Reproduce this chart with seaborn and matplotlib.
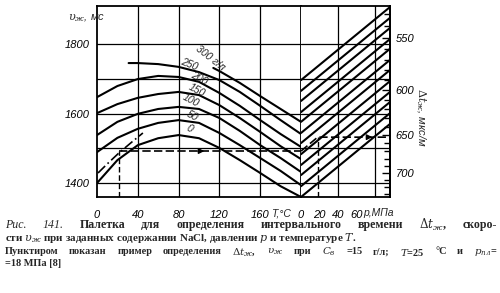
import numpy as np
import pandas as pd
import matplotlib
matplotlib.use("Agg")
import matplotlib.pyplot as plt
from matplotlib.ticker import FixedLocator
import seaborn as sns

sns.set_theme(style="white")
plt.rcParams["font.family"] = ["Liberation Sans", "DejaVu Sans"]
plt.rcParams["mathtext.fontset"] = "dejavuserif"

# ---------------- data ----------------
T_pts = [0, 20, 40, 60, 80, 100, 120, 140, 160, 180, 200]
v_0 = [1400, 1466, 1509, 1529, 1538, 1529, 1501, 1466, 1429, 1391, 1360]
v_50 = [1489, 1530, 1556, 1573, 1581, 1573, 1544, 1509, 1472, 1435, 1394]
v_100 = [1538, 1576, 1599, 1613, 1619, 1613, 1587, 1550, 1509, 1472, 1432]
v_150 = [1601, 1627, 1645, 1656, 1662, 1653, 1624, 1587, 1547, 1506, 1469]
v_200 = [1647, 1679, 1699, 1708, 1705, 1691, 1659, 1622, 1581, 1541, 1504]
T_250 = [31, 40, 60, 80, 100, 120, 140, 160, 180, 200]
v_250 = [1745, 1745, 1742, 1734, 1719, 1696, 1662, 1622, 1581, 1541]
T_300 = [114, 120, 140, 160, 180, 200]
v_300 = [1731, 1722, 1688, 1650, 1613, 1576]

conc_labels = ["300 г/л", "250", "200", "150", "100", "50", "0"]

# pressure-correction family (right panel)
p_pts = [0, 96]
right_v_start = [1360, 1391, 1423, 1452, 1483, 1515, 1544, 1576, 1604, 1636, 1665, 1696]
right_v_end = [1570, 1601, 1633, 1662, 1693, 1725, 1754, 1786, 1814, 1846, 1875, 1906]

# worked example (C=15 g/l, T=25 C, p=18 MPa)
ex_T15 = [1, 10, 22, 35, 45]
ex_v15 = [1429, 1455, 1488, 1520, 1544]
ex_T = 22
ex_v = 1492
ex_p = 18
ex_v_p = 1532

T_ticks = [0, 40, 80, 120, 160]
p_ticks = [0, 20, 40, 60]
v_ticks = [1400, 1500, 1600, 1700, 1800]
v_labels = ["1400", "", "1600", "", "1800"]
dt_ticks = [550, 600, 650, 700]

# ---------------- figure ----------------
W, H = 500, 293
fig = plt.figure(figsize=(W / 100, H / 100), dpi=100)
fig.patch.set_facecolor("white")
L, R, C, TOP, BOT = 97, 390, 301, 6, 197
ax1 = fig.add_axes([L / W, 1 - BOT / H, (C - L) / W, (BOT - TOP) / H])
ax2 = fig.add_axes([C / W, 1 - BOT / H, (R - C) / W, (BOT - TOP) / H])
for ax in (ax1, ax2):
    ax.set_facecolor("white")
    ax.set_ylim(1360, 1909)
    for s in ax.spines.values():
        s.set_color("black")
        s.set_linewidth(1.3)
ax1.set_xlim(0, 200)
ax2.set_xlim(0, 96)
ax2.spines["left"].set_visible(False)

# grid
for v in v_ticks:
    ax1.axhline(v, color="black", lw=0.9, zorder=1)
    ax2.axhline(v, color="black", lw=0.9, zorder=1)
for t in T_ticks[1:]:
    ax1.axvline(t, color="black", lw=0.9, zorder=1)
for p in [40, 80]:
    ax2.axvline(p, color="black", lw=0.9, zorder=1)

# left family of curves
rows = []
for name, tt, vv in [("0", T_pts, v_0), ("50", T_pts, v_50), ("100", T_pts, v_100),
                     ("150", T_pts, v_150), ("200", T_pts, v_200),
                     ("250", T_250, v_250), ("300", T_300, v_300)]:
    for t, v in zip(tt, vv):
        rows.append({"T": t, "v": v, "c": name})
df_left = pd.DataFrame(rows)
sns.lineplot(data=df_left, x="T", y="v", units="c", estimator=None, sort=False,
             color="black", lw=1.5, ax=ax1, legend=False, zorder=3)

# right family of lines
rows = []
for i, (a, b) in enumerate(zip(right_v_start, right_v_end)):
    rows.append({"p": p_pts[0], "v": a, "k": i})
    rows.append({"p": p_pts[1], "v": b, "k": i})
df_right = pd.DataFrame(rows)
sns.lineplot(data=df_right, x="p", y="v", units="k", estimator=None, sort=False,
             color="black", lw=1.5, ax=ax2, legend=False, zorder=3)

# worked example
ax1.plot(ex_T15, ex_v15, color="black", lw=1.2, ls=(0, (6, 2, 1, 2)), zorder=3)
ax1.plot([ex_T, ex_T], [1360, ex_v], color="black", lw=1.0, ls=(0, (4, 2)), zorder=3)
ax1.plot([ex_T, 200], [ex_v, ex_v], color="black", lw=1.2, ls=(0, (5, 2)), zorder=3)
ax1.annotate("", xy=(108, ex_v), xytext=(96, ex_v),
             arrowprops=dict(arrowstyle="-|>", color="black", lw=1.0, mutation_scale=8))
ax2.plot([0, ex_p, 96], [ex_v, ex_v_p, ex_v_p], color="black", lw=1.2, ls=(0, (5, 2)), zorder=3)
ax2.plot([ex_p, ex_p], [1360, ex_v_p], color="black", lw=1.0, ls=(0, (4, 2)), zorder=3)
ax2.annotate("", xy=(80, ex_v_p), xytext=(68, ex_v_p),
             arrowprops=dict(arrowstyle="-|>", color="black", lw=1.0, mutation_scale=8))

# curve labels
lab_pos = [(111, 1758, -38), (90, 1740, -22), (100, 1702, -28), (98, 1667, -28),
           (92, 1637, -28), (93, 1594, -28), (91, 1557, -28)]
for txt, (x, y, r) in zip(conc_labels, lab_pos):
    ax1.text(x, y, txt, fontsize=7.5, fontstyle="italic", rotation=r,
             ha="center", va="center", zorder=4)

# ticks
ax1.set_yticks(v_ticks, v_labels, fontstyle="italic", fontsize=8)
ax1.set_xticks(T_ticks, [str(t) for t in T_ticks], fontstyle="italic", fontsize=8)
ax1.tick_params(axis="both", length=0, pad=5, colors="black")
ax1.tick_params(axis="x", pad=9)
ax2.set_xticks(p_ticks, [str(p) for p in p_ticks], fontstyle="italic", fontsize=8)
ax2.tick_params(axis="x", direction="in", length=5, pad=9, colors="black", width=1)
ax2.tick_params(axis="y", left=False, labelleft=False)
ax2.set_xlabel("")
ax2.set_ylabel("")
ax1.set_xlabel("")
ax1.set_ylabel("")
ax1.text(0.9, -0.085, "T,°C", transform=ax1.transAxes, fontsize=7.5,
         fontstyle="italic", ha="center", va="center")
ax2.text(0.70, -0.085, "p,МПа", transform=ax2.transAxes, fontsize=7.5,
         fontstyle="italic", ha="left", va="center")


def to_dt(v):
    v = np.asarray(v, dtype=float)
    with np.errstate(divide="ignore"):
        return 1e6 / v


sec = ax2.secondary_yaxis("right", functions=(to_dt, to_dt))
sec.set_ticks(dt_ticks, [str(d) for d in dt_ticks], fontstyle="italic", fontsize=8)
sec.yaxis.set_minor_locator(FixedLocator(list(range(530, 740, 10))))
sec.tick_params(axis="y", which="major", direction="in", length=6, width=1, pad=4, colors="black")
sec.tick_params(axis="y", which="minor", direction="in", length=4, width=1, colors="black")
sec.spines["right"].set_linewidth(1.3)
sec.spines["right"].set_color("black")

fig.text(68 / W, 1 - 18 / H, r"$\upsilon_{ж}$, мс", fontsize=8, fontstyle="italic",
         ha="left", va="center")
fig.text(421 / W, 1 - 117 / H, r"$\Delta t_{ж}$, мкс/м", fontsize=8, fontstyle="italic",
         rotation=-90, ha="center", va="center")

# ---------------- caption ----------------
serif = ["Liberation Serif", "DejaVu Serif"]


def justify(words, x0, x1, ypx, styles, size):
    texts = []
    for w, st in zip(words, styles):
        texts.append(fig.text(0, 1 - ypx / H, w, fontsize=size, family=serif,
                              fontweight="bold" if st == "b" else "normal",
                              fontstyle="italic" if st == "i" else "normal",
                              va="center", ha="left"))
    fig.canvas.draw()
    r = fig.canvas.get_renderer()
    widths = [t.get_window_extent(r).width for t in texts]
    gap = (x1 - x0 - sum(widths)) / (len(words) - 1)
    x = x0
    for t, w in zip(texts, widths):
        t.set_x(x / W)
        x += w + gap


line1 = ["Рис.", "141.", "Палетка", "для", "определения", "интервального",
         "времени", r"$\Delta t_{ж}$,", "скоро-"]
justify(line1, 5, 497, 225, ["i", "i", "b", "b", "b", "b", "b", "b", "b"], 8.6)
fig.text(5 / W, 1 - 238 / H,
         r"сти $\upsilon_{ж}$ при заданных содержании NaCl, давлении $p$ и температуре $T$.",
         fontsize=8.0, family=serif, fontweight="bold", va="center", ha="left")
line3 = ["Пунктиром", "показан", "пример", "определения", r"$\Delta t_{ж}$,",
         r"$\upsilon_{ж}$", "при", r"$C_{в}$", "=15", "г/л;", r"$T$=25", "°C", "и",
         r"$p_{пл}$="]
justify(line3, 5, 497, 252, ["b"] * len(line3), 7.4)
fig.text(5 / W, 1 - 263 / H, "=18 МПа [8]", fontsize=7.4, family=serif,
         fontweight="bold", va="center", ha="left")

fig.savefig("out.png", dpi=100, facecolor="white")
